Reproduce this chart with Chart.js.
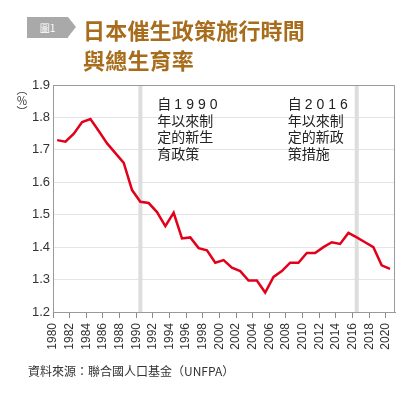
<!DOCTYPE html>
<html>
<head>
<meta charset="utf-8">
<script src="https://cdn.jsdelivr.net/npm/chart.js@4/dist/chart.umd.min.js"></script>
<style>
  html, body { margin: 0; padding: 0; background: #fff; }
  .page { position: relative; width: 413px; height: 397px; overflow: hidden; }
  .tag {
    position: absolute; left: 27px; top: 17px; width: 41px; height: 21px;
    background: #a9a9a9; color: #fff; font: 10px "Noto Sans CJK TC", sans-serif;
    line-height: 21px; text-align: center;
  }
  .tag:after {
    content: ""; position: absolute; left: 41px; top: 0;
    border-top: 10.5px solid transparent; border-bottom: 10.5px solid transparent;
    border-left: 8px solid #a9a9a9;
  }
  .title {
    position: absolute; left: 83px; top: 14px; color: #a86d1c;
    font: bold 22px/30px "Noto Sans CJK TC", serif; letter-spacing: 0.2px;
  }
  .unit {
    position: absolute; left: 14px; top: 84px; writing-mode: vertical-rl;
    font: 11px "Noto Sans CJK TC", sans-serif; color: #333;
  }
  .source {
    position: absolute; left: 28px; top: 362px; color: #333;
    font: 12px "Noto Sans CJK TC", sans-serif;
  }
  .wrap { position: absolute; left: 0; top: 0; width: 413px; height: 397px; }
</style>
</head>
<body>
<div class="page">
  <div class="wrap"><canvas id="chart"></canvas></div>
  <div class="tag">圖1</div>
  <div class="title">日本催生政策施行時間<br>與總生育率</div>
  <div class="unit">（％）</div>
  <div class="source">資料來源：聯合國人口基金（UNFPA）</div>
</div>
<script>
// total fertility rate, Japan
const years = [1980, 1981, 1982, 1983, 1984, 1985, 1986, 1987, 1988, 1989,
  1990, 1991, 1992, 1993, 1994, 1995, 1996, 1997, 1998, 1999,
  2000, 2001, 2002, 2003, 2004, 2005, 2006, 2007, 2008, 2009,
  2010, 2011, 2012, 2013, 2014, 2015, 2016, 2017, 2018, 2019, 2020];
const fertility = [1.73, 1.725, 1.75, 1.786, 1.795, 1.758, 1.72, 1.69, 1.66, 1.576,
  1.54, 1.536, 1.508, 1.465, 1.506, 1.427, 1.43, 1.397, 1.39, 1.352,
  1.36, 1.337, 1.326, 1.297, 1.297, 1.26, 1.308, 1.326, 1.352, 1.352,
  1.382, 1.382, 1.40, 1.415, 1.41, 1.444, 1.43, 1.415, 1.40, 1.344, 1.333];
const xTicks = [1980, 1982, 1984, 1986, 1988, 1990, 1992, 1994, 1996, 1998, 2000,
  2002, 2004, 2006, 2008, 2010, 2012, 2014, 2016, 2018, 2020];
const yTicks = [1.2, 1.3, 1.4, 1.5, 1.6, 1.7, 1.8, 1.9];
const policyYears = [1990, 2016];
const notes = [
  ['自', '1990', '年以來制', '定的新生', '育政策'],
  ['自', '2016', '年以來制', '定的新政', '策措施']
];

// each annual value sits in the middle of its year
const points = years.map((y, i) => ({ x: y + 0.5, y: fertility[i] }));

const overlay = {
  id: 'overlay',
  beforeDatasetsDraw(chart) {
    const { ctx, chartArea: a, scales: { x } } = chart;
    ctx.save();
    ctx.fillStyle = '#dddddd';
    policyYears.forEach(y => {
      const px = x.getPixelForValue(y + 0.5);
      ctx.fillRect(px - 2, a.top, 4, a.bottom - a.top);
    });
    ctx.restore();
  },
  afterDraw(chart) {
    const { ctx, chartArea: a, scales: { x } } = chart;
    ctx.save();
    ctx.strokeStyle = '#9a9a9a';
    ctx.lineWidth = 1;
    ctx.beginPath();
    ctx.moveTo(a.left, a.top + 0.5);
    ctx.lineTo(a.right - 0.5, a.top + 0.5);
    ctx.lineTo(a.right - 0.5, a.bottom);
    ctx.stroke();

    ctx.fillStyle = '#222';
    ctx.textBaseline = 'alphabetic';
    const lefts = [x.getPixelForValue(policyYears[0] + 0.5) + 17,
                   x.getPixelForValue(policyYears[1] + 0.5) - 69];
    notes.forEach((n, k) => {
      const lx = lefts[k];
      ctx.font = '14px "Noto Sans CJK TC", sans-serif';
      ctx.letterSpacing = '0px';
      ctx.fillText(n[0], lx, 109);
      const w = ctx.measureText(n[0]).width;
      ctx.font = '14px "Liberation Sans", sans-serif';
      ctx.letterSpacing = '4px';
      ctx.fillText(n[1], lx + w + 3, 109);
      ctx.letterSpacing = '0px';
      ctx.font = '14px "Noto Sans CJK TC", sans-serif';
      ctx.fillText(n[2], lx, 125.5);
      ctx.fillText(n[3], lx, 142);
      ctx.fillText(n[4], lx, 158.5);
    });
    ctx.restore();
  }
};

new Chart(document.getElementById('chart'), {
  type: 'line',
  data: {
    datasets: [{
      data: points,
      borderColor: '#e2001a',
      borderWidth: 2.5,
      pointRadius: 0,
      tension: 0,
      fill: false
    }]
  },
  options: {
    responsive: true,
    maintainAspectRatio: false,
    animation: false,
    layout: { padding: { top: 85, right: 18, left: 0, bottom: 40 } },
    plugins: { legend: { display: false }, tooltip: { enabled: false } },
    scales: {
      x: {
        type: 'linear',
        min: 1980,
        max: 2021.1,
        afterBuildTicks: s => { s.ticks = xTicks.map(v => ({ value: v })); },
        afterFit: s => { s.height = 45; },
        grid: { drawOnChartArea: false, drawTicks: true, tickLength: 6, color: '#8a8a8a' },
        border: { color: '#9a9a9a' },
        ticks: {
          autoSkip: false,
          minRotation: 90, maxRotation: 90, padding: 5, color: '#333',
          font: { family: '"Liberation Sans", Arial, sans-serif', size: 12 },
          callback: v => String(v)
        }
      },
      y: {
        min: 1.2,
        max: 1.9,
        afterBuildTicks: s => { s.ticks = yTicks.map(v => ({ value: v })); },
        afterFit: s => { s.width = 53; },
        grid: { color: '#e4e4e4', drawTicks: false },
        border: { color: '#9a9a9a' },
        ticks: {
          padding: 3, color: '#333',
          font: { family: '"Liberation Sans", Arial, sans-serif', size: 13 },
          callback: v => v.toFixed(1)
        }
      }
    }
  },
  plugins: [overlay]
});
</script>
</body>
</html>
